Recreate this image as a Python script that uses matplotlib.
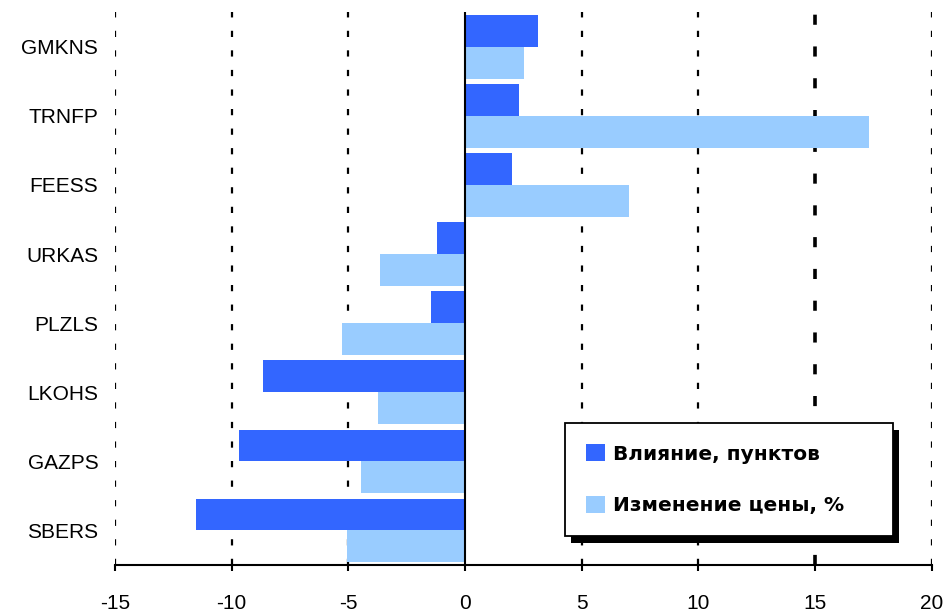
#Impact of stocks on the index vs price change
import numpy as np
import matplotlib.pyplot as plt
from matplotlib.patches import Rectangle

plt.rcParams['font.family'] = ['Liberation Sans', 'DejaVu Sans']
plt.rcParams['axes.unicode_minus'] = False

#Chart data
tickers = ["GMKNS", "TRNFP", "FEESS", "URKAS", "PLZLS", "LKOHS", "GAZPS", "SBERS"]
impact = [3.13, 2.31, 2.0, -1.18, -1.46, -8.65, -9.67, -11.52]
price_change = [2.51, 17.29, 7.02, -3.63, -5.25, -3.71, -4.46, -5.06]
labels = ["Влияние, пунктов", "Изменение цены, %"]
xticks = [-15, -10, -5, 0, 5, 10, 15, 20]

fig = plt.figure(figsize=(9.47, 6.12), dpi=100)
ax = fig.add_axes([0.1214, 0.0768, 0.8625, 0.9032])

y = np.arange(len(tickers))
h = 0.46
ax.barh(y - h / 2, impact, height=h, color="#3366FF", label=labels[0], zorder=3)
ax.barh(y + h / 2, price_change, height=h, color="#99CCFF", label=labels[1], zorder=3)

#Dashed vertical gridlines
for x in xticks:
    if x == 0:
        continue
    lw = 2.6 if x == 15 else 1.6
    ax.axvline(x, color="black", lw=lw, linestyle=(0, (2.8, 6.0)), zorder=1)
ax.axvline(0, color="black", lw=1.5, zorder=4)

ax.set_xlim(-15, 20)
ax.set_ylim(len(tickers) - 0.5, -0.5)
ax.set_xticks(xticks)
ax.set_yticks(y)
ax.set_yticklabels(tickers, fontsize=15)
ax.tick_params(axis="x", labelsize=15, length=4, width=1.5, pad=17, direction="out")
ax.tick_params(axis="y", length=0, pad=12)

for s in ["top", "right", "left"]:
    ax.spines[s].set_visible(False)
ax.spines["bottom"].set_linewidth(1.5)

leg = ax.legend(loc="lower left", bbox_to_anchor=(0.551, 0.052, 0.402, 0.2),
                mode="expand", fancybox=False, shadow=False,
                prop={"family": "DejaVu Sans", "weight": "bold", "size": 14.5},
                labelspacing=1.6, handlelength=0.95, handleheight=0.9,
                handletextpad=0.4, borderpad=1.05, borderaxespad=0, framealpha=1)
leg.get_frame().set_edgecolor("black")
leg.get_frame().set_linewidth(1.3)
leg.set_zorder(6)

#Solid black drop shadow behind the legend box
fig.canvas.draw()
bb = leg.get_frame().get_window_extent()
shadow = Rectangle((bb.x0 + 6, bb.y0 - 7), bb.width, bb.height, transform=None,
                   facecolor="black", edgecolor="none", zorder=5)
ax.add_artist(shadow)

plt.savefig("out.png", dpi=100)
